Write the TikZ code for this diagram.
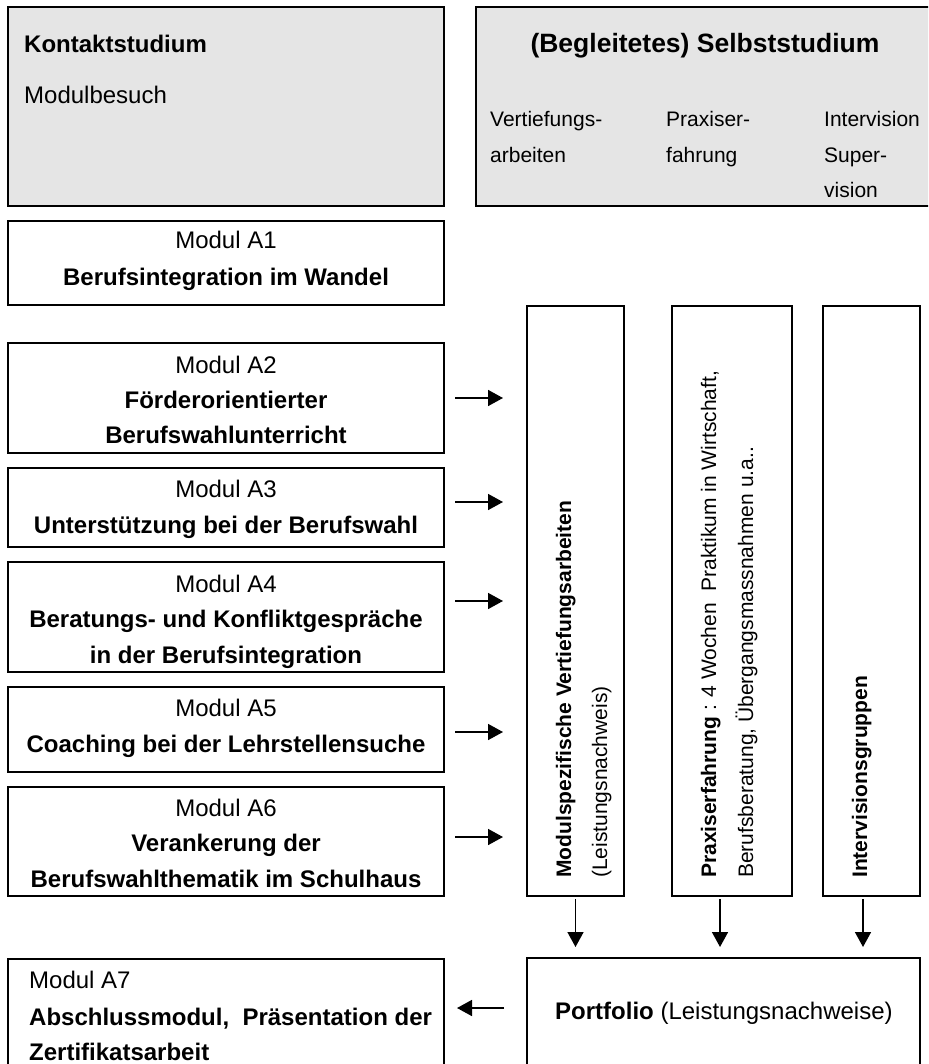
\documentclass[tikz,border=0pt]{standalone}
\usepackage{fontspec}
\setmainfont{Liberation Sans}
\usetikzlibrary{arrows.meta,calc}
\begin{document}
\begin{tikzpicture}[x=1pt,y=-1pt,
  box/.style={draw,line width=2pt,rectangle,inner sep=0pt,outer sep=0pt},
  graybox/.style={box,fill=gray!20},
  txt/.style={inner sep=0pt,font=\fontsize{24}{29}\selectfont},
  small/.style={font=\fontsize{21}{25}\selectfont},
  tl/.style={txt,anchor=base west},
  tc/.style={txt,anchor=base},
  tv/.style={txt,small,anchor=base west,rotate=90},
  arr/.style={line width=1.6pt,-{Triangle[length=15pt,width=16pt]}}]
\useasboundingbox (0,0) rectangle (928,1064);
\clip (0,0) rectangle (928,1064);
% top boxes
\node[graybox,minimum width=436pt,minimum height=199pt] (kontakt) at (226,106.5) {};
\node[graybox,minimum width=464pt,minimum height=199pt] (selbst) at (708,106.5) {};
\node[tl] (kt) at (24,53) {\bfseries Kontaktstudium};
\node[tl] (mb) at (24,104) {Modulbesuch};
\node[tc,font=\fontsize{26.5}{30}\selectfont] (st) at (705,53) {\bfseries (Begleitetes) Selbststudium};
\node[tl,small] (s1a) at (490,127) {Vertiefungs-};
\node[tl,small] (s1b) at (490,163) {arbeiten};
\node[tl,small] (s2a) at (666,127) {Praxiser-};
\node[tl,small] (s2b) at (666,163) {fahrung};
\node[tl,small] (s3a) at (824,127) {Intervision};
\node[tl,small] (s3b) at (824,163) {Super-};
\node[tl,small] (s3c) at (824,198) {vision};
% module boxes
\node[box,minimum width=436pt,minimum height=84pt] (a1) at (226,263) {};
\node[box,minimum width=436pt,minimum height=110pt] (a2) at (226,398) {};
\node[box,minimum width=436pt,minimum height=79pt] (a3) at (226,507.5) {};
\node[box,minimum width=436pt,minimum height=110pt] (a4) at (226,617) {};
\node[box,minimum width=436pt,minimum height=85pt] (a5) at (226,729.5) {};
\node[box,minimum width=436pt,minimum height=109pt] (a6) at (226,841.5) {};
\node[box,minimum width=436pt,minimum height=141pt] (a7) at (226,1029.5) {};
\node[tc] (a1t) at (226,249) {Modul A1};
\node[tc] (a1b) at (226,286) {\bfseries Berufsintegration im Wandel};
\node[tc] (a2t) at (226,373) {Modul A2};
\node[tc] (a2b) at (226,408) {\bfseries Förderorientierter};
\node[tc] (a2c) at (226,443) {\bfseries Berufswahlunterricht};
\node[tc] (a3t) at (226,497) {Modul A3};
\node[tc] (a3b) at (226,533) {\bfseries Unterstützung bei der Berufswahl};
\node[tc] (a4t) at (226,592) {Modul A4};
\node[tc] (a4b) at (226,627) {\bfseries Beratungs- und Konfliktgespräche};
\node[tc] (a4c) at (226,663) {\bfseries in der Berufsintegration};
\node[tc] (a5t) at (226,716) {Modul A5};
\node[tc] (a5b) at (226,752) {\bfseries Coaching bei der Lehrstellensuche};
\node[tc] (a6t) at (226,816) {Modul A6};
\node[tc] (a6b) at (226,851) {\bfseries Verankerung der};
\node[tc] (a6c) at (226,887) {\bfseries Berufswahlthematik im Schulhaus};
\node[tl] (a7t) at (29,988) {Modul A7};
\node[tl] (a7b) at (29,1025) {\bfseries Abschlussmodul,\ \ Präsentation der};
\node[tl] (a7c) at (29,1060) {\bfseries Zertifikatsarbeit};
% vertical boxes
\node[box,minimum width=97pt,minimum height=590pt] (v1) at (575.5,601) {};
\node[box,minimum width=120pt,minimum height=590pt] (v2) at (732,601) {};
\node[box,minimum width=97pt,minimum height=590pt] (v3) at (871.5,601) {};
\node[tv] (v1a) at (571,878) {\bfseries Modulspezifische Vertiefungsarbeiten};
\node[tv] (v1b) at (607,878) {(Leistungsnachweis)};
\node[tv] (v2a) at (716,878) {\textbf{Praxiserfahrung} : 4 Wochen\ \ Praktikum in Wirtschaft,};
\node[tv] (v2b) at (753,878) {Berufsberatung, Übergangsmassnahmen u.a..};
\node[tv] (v3a) at (867,878) {\bfseries Intervisionsgruppen};
% portfolio
\node[box,minimum width=393pt,minimum height=142pt] (port) at (723.5,1029) {};
\node[tl] (pt) at (555,1019) {\textbf{Portfolio} (Leistungsnachweise)};
% arrows
\draw[arr,shorten <=11pt,shorten >=24pt] (a2.east) -- (a2.east -| v1.west);
\draw[arr,shorten <=11pt,shorten >=24pt] ([yshift=5.5pt]a3.east) -- ([yshift=5.5pt]a3.east -| v1.west);
\draw[arr,shorten <=11pt,shorten >=24pt] ([yshift=16pt]a4.east) -- ([yshift=16pt]a4.east -| v1.west);
\draw[arr,shorten <=11pt,shorten >=24pt] ([yshift=-2.5pt]a5.east) -- ([yshift=-2.5pt]a5.east -| v1.west);
\draw[arr,shorten <=11pt,shorten >=24pt] ([yshift=4.5pt]a6.east) -- ([yshift=4.5pt]a6.east -| v1.west);
\draw[arr,shorten <=3pt,shorten >=11pt] (v1.south) -- (v1.south |- port.north);
\draw[arr,shorten <=3pt,shorten >=11pt] ([xshift=-12pt]v2.south) -- ([xshift=-12pt]v2.south |- port.north);
\draw[arr,shorten <=3pt,shorten >=11pt] ([xshift=-8.5pt]v3.south) -- ([xshift=-8.5pt]v3.south |- port.north);
\coordinate (yp) at (0,1008);
\draw[arr,shorten <=23pt,shorten >=13pt] (port.west |- yp) -- (a7.east |- yp);
\end{tikzpicture}
\end{document}
